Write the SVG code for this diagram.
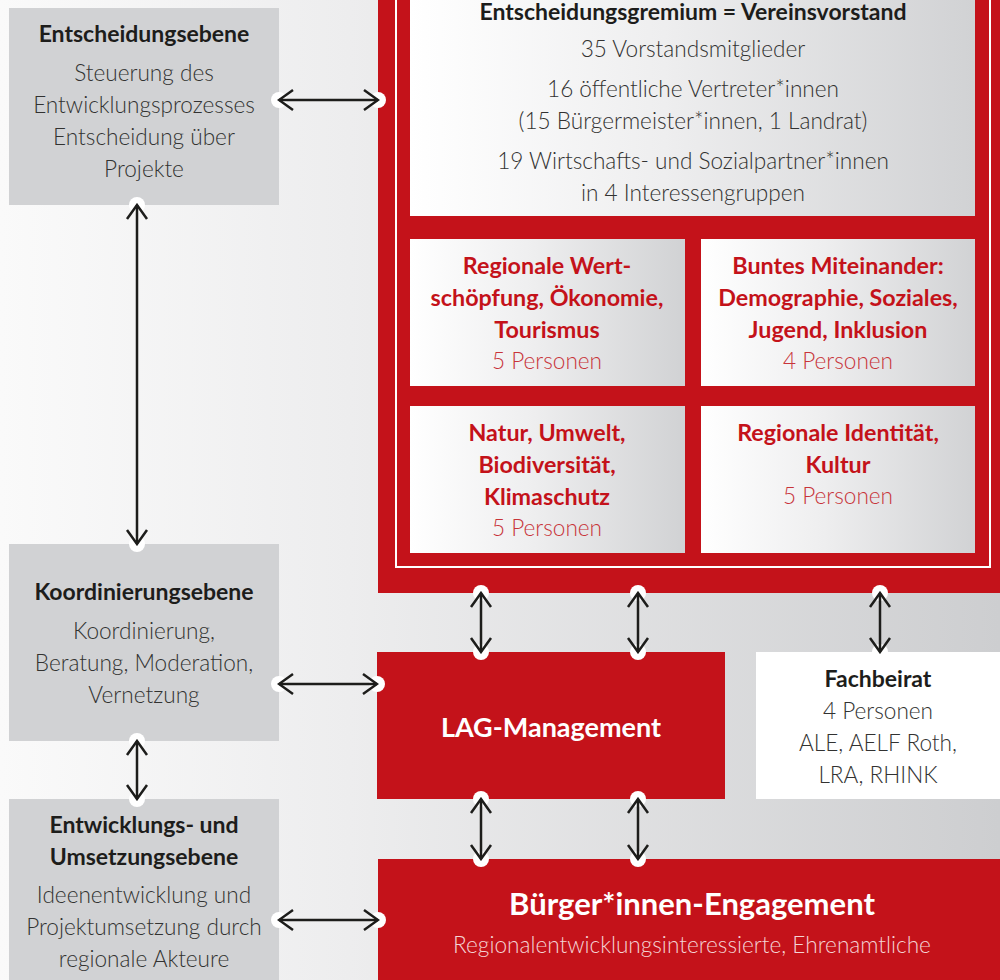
<svg xmlns="http://www.w3.org/2000/svg" width="1000" height="980" viewBox="0 0 1000 980">
<style>
text{font-family:Lato,"Liberation Sans",sans-serif;text-anchor:middle}
.t{font-weight:700;font-size:23px;fill:#1d1d1b}
.b{font-weight:300;font-size:22.6px;fill:#323231}
.r{font-weight:700;font-size:23.3px;fill:#c4121a}
.rp{font-weight:300;font-size:22.6px;fill:#c8343a}
.grey{fill:#d1d2d4}
.red{fill:#c4121a}
.con line{stroke:#1d1d1b;stroke-width:2.5;marker-start:url(#ah);marker-end:url(#ah)}
.con circle{fill:#fff}
</style>
<defs>
<linearGradient id="bg" x1="0" y1="0" x2="1" y2="0">
<stop offset="0" stop-color="#fafafa"/>
<stop offset="0.35" stop-color="#ededee"/>
<stop offset="1" stop-color="#cdced0"/>
</linearGradient>
<linearGradient id="wg" x1="0" y1="0" x2="1" y2="0">
<stop offset="0" stop-color="#ffffff"/>
<stop offset="0.45" stop-color="#eeeeef"/>
<stop offset="1" stop-color="#d1d2d4"/>
</linearGradient>
<marker id="ah" viewBox="-16 -12 18 24" refX="0" refY="0" markerWidth="18" markerHeight="24" markerUnits="userSpaceOnUse" orient="auto-start-reverse">
<path d="M-14,-10 L0,0 L-14,10" fill="none" stroke="#1d1d1b" stroke-width="2.5"/>
</marker>
</defs>
<rect width="1000" height="980" fill="url(#bg)"/>

<g id="entscheidungsebene">
<rect class="grey" x="9" y="8" width="270" height="197"/>
<text class="t" x="144" y="42">Entscheidungsebene</text>
<text class="b" x="144" y="81">Steuerung des</text>
<text class="b" x="144" y="113">Entwicklungsprozesses</text>
<text class="b" x="144" y="145">Entscheidung über</text>
<text class="b" x="144" y="177">Projekte</text>
</g>

<g id="koordinierungsebene">
<rect class="grey" x="9" y="544" width="270" height="197"/>
<text class="t" x="144" y="600">Koordinierungsebene</text>
<text class="b" x="144" y="639">Koordinierung,</text>
<text class="b" x="144" y="671">Beratung, Moderation,</text>
<text class="b" x="144" y="703">Vernetzung</text>
</g>

<g id="umsetzungsebene">
<rect class="grey" x="9" y="799" width="270" height="181"/>
<text class="t" x="144" y="833">Entwicklungs- und</text>
<text class="t" x="144" y="865">Umsetzungsebene</text>
<text class="b" x="144" y="903">Ideenentwicklung und</text>
<text class="b" x="144" y="935">Projektumsetzung durch</text>
<text class="b" x="144" y="967">regionale Akteure</text>
</g>

<g id="vorstand">
<rect class="red" x="378" y="0" width="622" height="593"/>
<rect x="396" y="-5" width="594" height="572" fill="none" stroke="#fff" stroke-width="2"/>
<rect x="410" y="-2" width="565" height="218" fill="url(#wg)"/>
<text class="t" x="693" y="20">Entscheidungsgremium = Vereinsvorstand</text>
<text class="b" x="693" y="57">35 Vorstandsmitglieder</text>
<text class="b" x="693" y="97">16 öffentliche Vertreter*innen</text>
<text class="b" x="693" y="129">(15 Bürgermeister*innen, 1 Landrat)</text>
<text class="b" x="693" y="169">19 Wirtschafts- und Sozialpartner*innen</text>
<text class="b" x="693" y="201">in 4 Interessengruppen</text>
</g>

<g id="gruppe-wertschoepfung">
<rect x="410" y="239" width="275" height="147" fill="url(#wg)"/>
<text class="r" x="547" y="274">Regionale Wert-</text>
<text class="r" x="547" y="306">schöpfung, Ökonomie,</text>
<text class="r" x="547" y="338">Tourismus</text>
<text class="rp" x="547" y="369">5 Personen</text>
</g>

<g id="gruppe-miteinander">
<rect x="701" y="239" width="274" height="147" fill="url(#wg)"/>
<text class="r" x="838" y="274">Buntes Miteinander:</text>
<text class="r" x="838" y="306">Demographie, Soziales,</text>
<text class="r" x="838" y="338">Jugend, Inklusion</text>
<text class="rp" x="838" y="369">4 Personen</text>
</g>

<g id="gruppe-natur">
<rect x="410" y="406" width="275" height="147" fill="url(#wg)"/>
<text class="r" x="547" y="441">Natur, Umwelt,</text>
<text class="r" x="547" y="473">Biodiversität,</text>
<text class="r" x="547" y="505">Klimaschutz</text>
<text class="rp" x="547" y="536">5 Personen</text>
</g>

<g id="gruppe-identitaet">
<rect x="701" y="406" width="274" height="147" fill="url(#wg)"/>
<text class="r" x="838" y="441">Regionale Identität,</text>
<text class="r" x="838" y="473">Kultur</text>
<text class="rp" x="838" y="504">5 Personen</text>
</g>

<g id="lag-management">
<rect class="red" x="377" y="652" width="348" height="147"/>
<text x="551" y="737" style="font-weight:700;font-size:27px;fill:#fff">LAG-Management</text>
</g>

<g id="fachbeirat">
<rect x="756" y="652" width="244" height="147" fill="#fff"/>
<text class="t" x="878" y="687">Fachbeirat</text>
<text class="b" x="878" y="719">4 Personen</text>
<text class="b" x="878" y="751">ALE, AELF Roth,</text>
<text class="b" x="878" y="783">LRA, RHINK</text>
</g>

<g id="buerger-engagement">
<rect class="red" x="378" y="859" width="622" height="121"/>
<text x="692" y="915" style="font-weight:700;font-size:31px;fill:#fff">Bürger*innen-Engagement</text>
<text x="692" y="953" style="font-weight:300;font-size:22.6px;fill:#f4d3d4">Regionalentwicklungsinteressierte, Ehrenamtliche</text>
</g>

<g id="connectors" class="con">
<circle cx="279" cy="100" r="8"/><circle cx="378" cy="100" r="8"/>
<circle cx="137" cy="205" r="8"/><circle cx="137" cy="544" r="8"/>
<circle cx="137" cy="741" r="8"/><circle cx="137" cy="799" r="8"/>
<circle cx="279" cy="684" r="8"/><circle cx="377" cy="684" r="8"/>
<circle cx="279" cy="920" r="8"/><circle cx="378" cy="920" r="8"/>
<circle cx="481" cy="593" r="8"/><circle cx="481" cy="652" r="8"/>
<circle cx="638" cy="593" r="8"/><circle cx="638" cy="652" r="8"/>
<circle cx="880" cy="593" r="8"/><circle cx="880" cy="652" r="8"/>
<circle cx="481" cy="799" r="8"/><circle cx="481" cy="859" r="8"/>
<circle cx="638" cy="799" r="8"/><circle cx="638" cy="859" r="8"/>
<line x1="279" y1="100" x2="378" y2="100"/>
<line x1="137" y1="205" x2="137" y2="544"/>
<line x1="137" y1="741" x2="137" y2="799"/>
<line x1="279" y1="684" x2="377" y2="684"/>
<line x1="279" y1="920" x2="378" y2="920"/>
<line x1="481" y1="593" x2="481" y2="652"/>
<line x1="638" y1="593" x2="638" y2="652"/>
<line x1="880" y1="593" x2="880" y2="652"/>
<line x1="481" y1="799" x2="481" y2="859"/>
<line x1="638" y1="799" x2="638" y2="859"/>
</g>
</svg>
